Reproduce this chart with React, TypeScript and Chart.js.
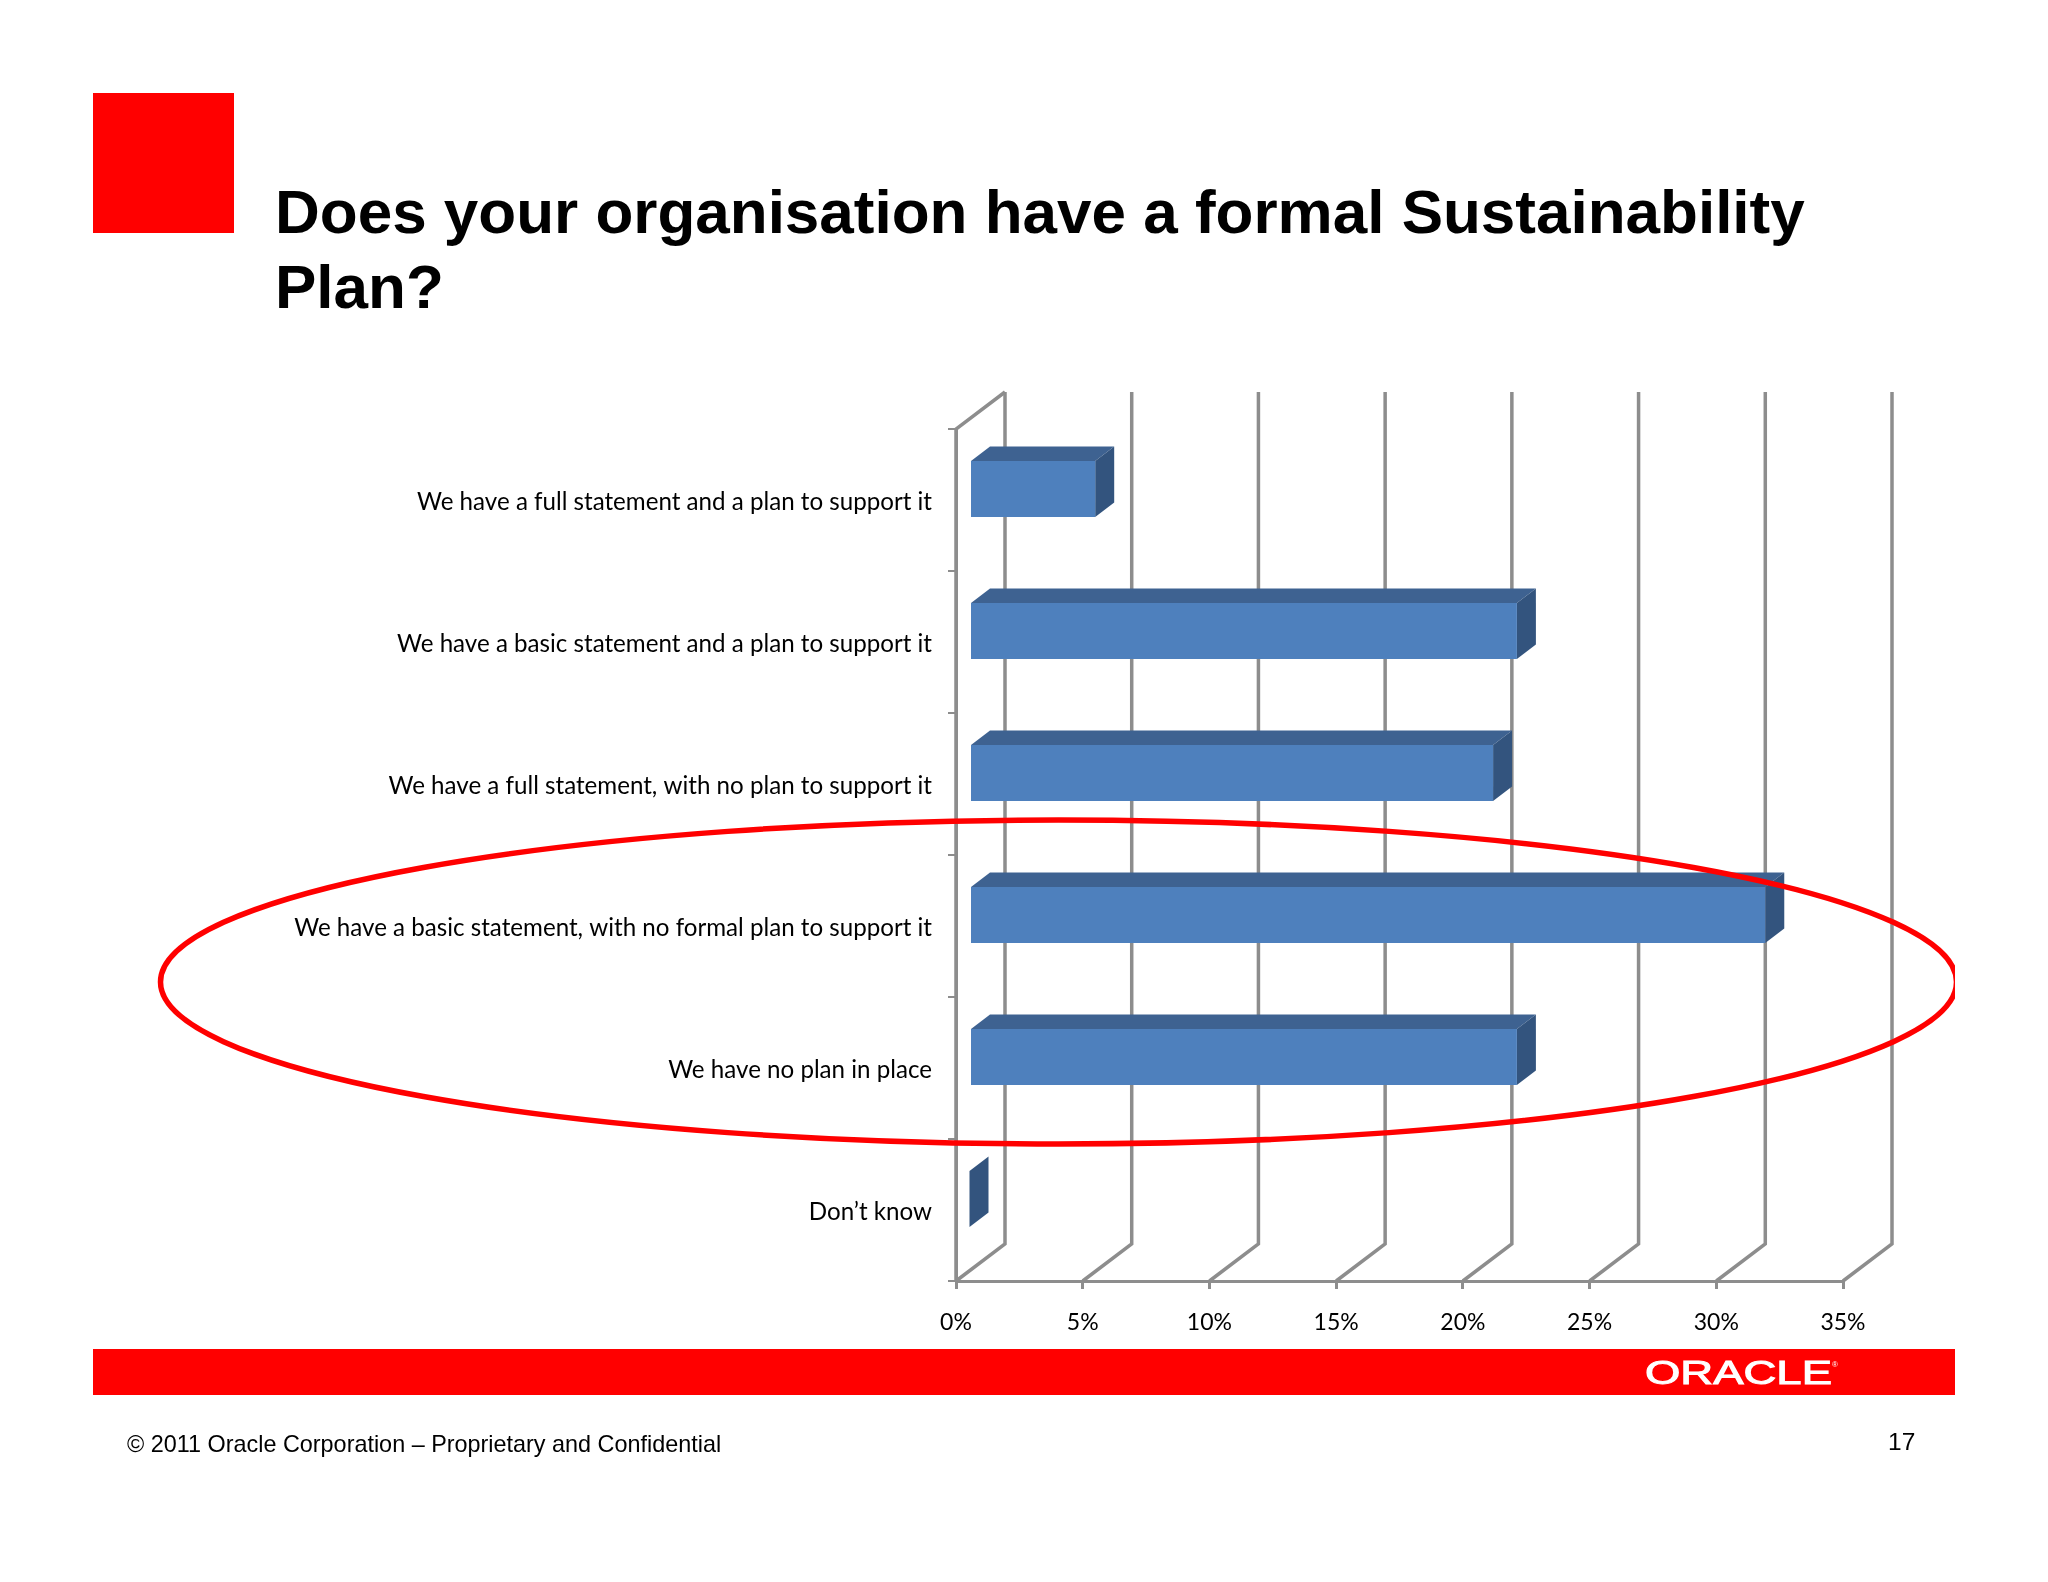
import React, { useEffect, useRef } from "react";
import { Chart, registerables } from "chart.js";

Chart.register(...registerables);

const categories = [
  "We have a full statement and a plan to support it",
  "We have a basic statement and a plan to support it",
  "We have a full statement, with no plan to support it",
  "We have a basic statement, with no formal plan to support it",
  "We have no plan in place",
  "Don\u2019t know",
];
const values = [4.96, 21.6, 20.66, 31.4, 21.6, 0];
const axisMax = 35;
const axisStep = 5;
const titleLines = ["Does your organisation have a formal Sustainability", "Plan?"];
const footerText = "\u00A9 2011 Oracle Corporation \u2013 Proprietary and Confidential";
const pageNumber = "17";

const GRID = "#8d8d8d";
const FRONT = "#4e80bd";
const TOP = "#3e6291";
const SIDE = "#33547e";
const WALL_DX = 49;
const WALL_DY = 37;
const BAR_DX = 13.5;
const BAR_DY = 11;
const DEPTH_DX = 19;
const DEPTH_DY = 14.5;

const box3d = {
  id: "box3d",
  beforeDatasetsDraw(chart: any) {
    const { ctx, chartArea, scales } = chart;
    const { left, top, bottom } = chartArea;
    ctx.save();
    ctx.strokeStyle = GRID;
    ctx.lineWidth = 3.5;
    scales.x.ticks.forEach((t: any) => {
      const x = scales.x.getPixelForValue(t.value);
      ctx.beginPath();
      ctx.moveTo(x + WALL_DX, top - WALL_DY);
      ctx.lineTo(x + WALL_DX, bottom - WALL_DY);
      ctx.lineTo(x, bottom);
      ctx.stroke();
    });
    ctx.beginPath();
    ctx.moveTo(left + WALL_DX, top - WALL_DY);
    ctx.lineTo(left, top);
    ctx.lineTo(left, bottom);
    ctx.stroke();
    ctx.restore();
  },
  beforeDatasetDraw(chart: any, args: any) {
    const { ctx } = chart;
    ctx.save();
    ctx.translate(BAR_DX, -BAR_DY);
    args.meta.data.forEach((bar: any) => {
      const p = bar.getProps(["x", "y", "base", "height"], true);
      const y0 = p.y - p.height / 2;
      const y1 = p.y + p.height / 2;
      ctx.fillStyle = TOP;
      ctx.beginPath();
      ctx.moveTo(p.base, y0);
      ctx.lineTo(p.base + DEPTH_DX, y0 - DEPTH_DY);
      ctx.lineTo(p.x + DEPTH_DX, y0 - DEPTH_DY);
      ctx.lineTo(p.x, y0);
      ctx.closePath();
      if (p.x > p.base) ctx.fill();
      ctx.fillStyle = SIDE;
      ctx.beginPath();
      ctx.moveTo(p.x, y0);
      ctx.lineTo(p.x + DEPTH_DX, y0 - DEPTH_DY);
      ctx.lineTo(p.x + DEPTH_DX, y1 - DEPTH_DY);
      ctx.lineTo(p.x, y1);
      ctx.closePath();
      ctx.fill();
    });
  },
  afterDatasetDraw(chart: any) {
    chart.ctx.restore();
  },
};

export default function App() {
  const ref = useRef<HTMLCanvasElement>(null);
  useEffect(() => {
    const chart = new Chart(ref.current as HTMLCanvasElement, {
      type: "bar",
      data: {
        labels: categories,
        datasets: [
          {
            data: values,
            backgroundColor: FRONT,
            borderWidth: 0,
            barPercentage: 0.394,
            categoryPercentage: 1,
            clip: false,
          } as any,
        ],
      },
      options: {
        indexAxis: "y",
        animation: false,
        responsive: false,
        devicePixelRatio: 1,
        layout: { padding: { top: 429, right: 205, left: 0, bottom: 0 } },
        plugins: { legend: { display: false }, tooltip: { enabled: false } },
        scales: {
          x: {
            min: 0,
            max: axisMax,
            afterFit: (s: any) => { s.height = 301; },
            grid: { drawOnChartArea: false, color: GRID, lineWidth: 3, tickLength: 8 },
            border: { color: GRID, width: 3 },
            ticks: {
              stepSize: axisStep,
              padding: 20,
              color: "#000",
              maxRotation: 0,
              font: { family: "Lato", size: 23 },
              callback: (v: any) => `${v}%`,
            },
          },
          y: {
            afterFit: (s: any) => { s.width = 956; },
            grid: { drawOnChartArea: false, color: GRID, lineWidth: 2, tickLength: 8 },
            border: { color: GRID, width: 3 },
            ticks: {
              padding: 16,
              labelOffset: 2.6,
              color: "#000",
              autoSkip: false,
              font: { family: "Lato", size: 24.15 },
            },
          },
        },
      },
      plugins: [box3d],
    } as any);
    return () => chart.destroy();
  }, []);

  return (
    <div style={{ position: "absolute", left: 0, top: 0, width: 2048, height: 1582, background: "#fff", overflow: "hidden" }}>
      <div style={{ position: "absolute", left: 93, top: 93, width: 141, height: 140, background: "#f00" }} />
      <div style={{ position: "absolute", left: 93, top: 1349, width: 1862, height: 46, background: "#f00" }} />
      <canvas ref={ref} width={2048} height={1582} style={{ position: "absolute", left: 0, top: 0, width: 2048, height: 1582 }} />
      {titleLines.map((line, i) => (
        <div key={i} style={{ position: "absolute", left: 275, top: 174 + i * 74.5, font: "bold 62px/75px 'Liberation Sans'", color: "#000", whiteSpace: "nowrap" }}>
          {line}
        </div>
      ))}
      <div style={{ position: "absolute", left: 127, top: 1429.5, font: "23.4px/28px 'Liberation Sans'", color: "#000", whiteSpace: "nowrap" }}>{footerText}</div>
      <div style={{ position: "absolute", left: 1892, top: 1428, font: "24.5px/28px 'Liberation Sans'", color: "#000", whiteSpace: "nowrap", transform: "translateX(-4px)" }}>{pageNumber}</div>
      <svg width={2048} height={1582} style={{ position: "absolute", left: 0, top: 0 }}>
        <defs>
          <clipPath id="slide"><rect x={0} y={0} width={1955} height={1582} /></clipPath>
        </defs>
        <ellipse cx={1058.5} cy={982} rx={898} ry={162} fill="none" stroke="#f00" strokeWidth={5.5} clipPath="url(#slide)" />
        <text x={1645} y={1384} fontFamily="Liberation Sans" fontSize={33} fill="#fff" stroke="#fff" strokeWidth={1} textLength={187} lengthAdjust="spacingAndGlyphs">ORACLE</text>
        <text x={1832} y={1367} fontFamily="Liberation Sans" fontSize={8} fill="#fff">{"\u00AE"}</text>
      </svg>
    </div>
  );
}
